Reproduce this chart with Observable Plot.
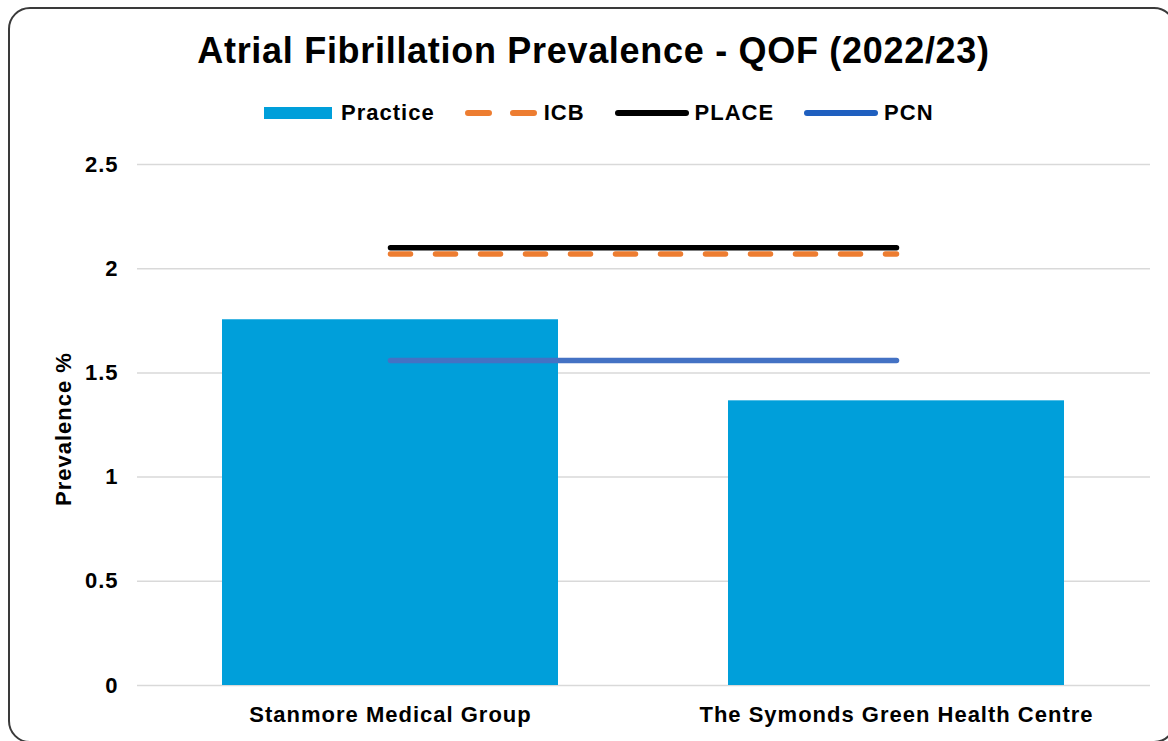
<!DOCTYPE html>
<html><head><meta charset="utf-8">
<script src="https://cdn.jsdelivr.net/npm/d3@7"></script>
<script src="https://cdn.jsdelivr.net/npm/@observablehq/plot@0.6"></script>
<style>
html,body{margin:0;padding:0;background:#fff;}
body{width:1168px;height:741px;overflow:hidden;position:relative;font-family:'Liberation Sans',Arial,sans-serif;}
#frame{position:absolute;left:8px;top:7px;width:1168px;height:736px;box-sizing:border-box;border:2px solid #3a3a3a;border-radius:22px;pointer-events:none;}
#header{position:relative;height:140px;}
#title{position:absolute;left:0;top:33px;width:1168px;box-sizing:border-box;padding-left:19px;text-align:center;font-size:36px;line-height:36px;font-weight:bold;letter-spacing:0.7px;color:#000;white-space:nowrap;}
#legend{position:absolute;left:264px;top:102px;height:22px;display:flex;align-items:center;font-size:22px;line-height:22px;font-weight:bold;letter-spacing:1px;white-space:nowrap;color:#000;}
.item{display:flex;align-items:center;margin-right:30px;}
.item svg{display:block;}
#chart svg{display:block;}
</style>
</head><body>
<div id="header">
  <div id="title"></div>
  <div id="legend"></div>
</div>
<div id="chart"></div>
<div id="frame"></div>
<script>
// ---- data ----
const titleText = "Atrial Fibrillation Prevalence - QOF (2022/23)";
const yLabel = "Prevalence %";
const practices = ["Stanmore Medical Group", "The Symonds Green Health Centre"];
const practiceValues = [1.755, 1.366];
const icbValues = [2.07, 2.07];
const placeValues = [2.10, 2.10];
const pcnValues = [1.56, 1.56];
const yTicks = [0, 0.5, 1, 1.5, 2, 2.5];
const seriesNames = ["Practice", "ICB", "PLACE", "PCN"];

// ---- styles ----
const BAR = "#009FDA", ICB = "#ED7D31", PLACE = "#000000", PCN = "#4472C4", PCN_LEG = "#1F5FBF";

document.getElementById("title").textContent = titleText;

// legend
const legend = document.getElementById("legend");
const legendSpec = [
  {kind: "rect", color: BAR, w: 68, gap: 9},
  {kind: "line", color: ICB, w: 72, gap: 7, dash: "21,24"},
  {kind: "line", color: PLACE, w: 74, gap: 6},
  {kind: "line", color: PCN_LEG, w: 74, gap: 6}
];
seriesNames.forEach((name, i) => {
  const s = legendSpec[i];
  const item = document.createElement("div");
  item.className = "item";
  const ns = "http://www.w3.org/2000/svg";
  const svg = document.createElementNS(ns, "svg");
  svg.setAttribute("width", s.w);
  svg.setAttribute("height", 12);
  if (s.kind === "rect") {
    const r = document.createElementNS(ns, "rect");
    r.setAttribute("x", 0); r.setAttribute("y", 0);
    r.setAttribute("width", s.w); r.setAttribute("height", 12);
    r.setAttribute("fill", s.color);
    svg.appendChild(r);
  } else {
    const l = document.createElementNS(ns, "line");
    l.setAttribute("x1", 3); l.setAttribute("x2", s.w - 3);
    l.setAttribute("y1", 6); l.setAttribute("y2", 6);
    l.setAttribute("stroke", s.color);
    l.setAttribute("stroke-width", 6);
    l.setAttribute("stroke-linecap", "round");
    if (s.dash) l.setAttribute("stroke-dasharray", s.dash);
    svg.appendChild(l);
  }
  svg.style.marginRight = s.gap + "px";
  item.appendChild(svg);
  const t = document.createElement("span");
  t.textContent = name;
  item.appendChild(t);
  legend.appendChild(item);
});

// chart
const rows = practices.map((p, i) => ({
  practice: p, value: practiceValues[i], icb: icbValues[i], place: placeValues[i], pcn: pcnValues[i]
}));

const chart = Plot.plot({
  width: 1168,
  height: 601,
  marginTop: 24,
  marginBottom: 56,
  marginLeft: 137,
  marginRight: 18,
  style: {
    fontFamily: "'Liberation Sans', Arial, sans-serif",
    fontSize: "22px",
    fontWeight: "bold",
    color: "#000",
    background: "transparent",
    letterSpacing: "1px",
    overflow: "visible"
  },
  x: {
    type: "band",
    domain: practices,
    paddingInner: 0.335,
    paddingOuter: 0.1675,
    align: 0.5,
    tickSize: 0,
    tickPadding: 21,
    label: null
  },
  y: {
    domain: [0, 2.5],
    ticks: 5,
    tickFormat: d => String(d),
    tickSize: 0,
    tickPadding: 19,
    label: null
  },
  marks: [
    Plot.ruleY(yTicks, {stroke: "#d9d9d9", strokeWidth: 1.5}),
    Plot.barY(rows, {x: "practice", y: "value", fill: BAR}),
    Plot.lineY(rows, {x: "practice", y: "pcn", stroke: PCN, strokeWidth: 5.5, strokeLinecap: "round"}),
    Plot.lineY(rows, {x: "practice", y: "icb", stroke: ICB, strokeWidth: 5.5, strokeLinecap: "round", strokeDasharray: "20,25"}),
    Plot.lineY(rows, {x: "practice", y: "place", stroke: PLACE, strokeWidth: 5.5, strokeLinecap: "round"}),
    Plot.text([yLabel], {frameAnchor: "left", text: d => d, rotate: -90, textAnchor: "middle", lineAnchor: "middle", dx: -74, dy: 4, fontSize: 22, fontWeight: "bold", fill: "#000"})
  ]
});
document.getElementById("chart").appendChild(chart);
</script>
</body></html>
